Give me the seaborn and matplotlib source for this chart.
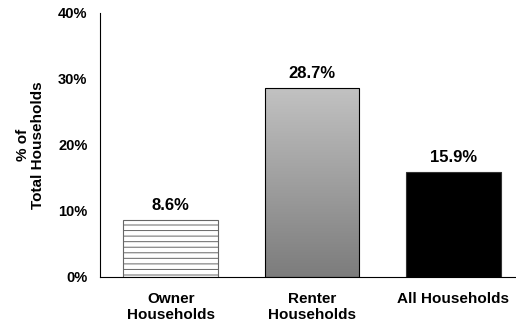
import numpy as np
import pandas as pd
import matplotlib
matplotlib.use("Agg")
import matplotlib.pyplot as plt
import seaborn as sns

categories = ["Owner\nHouseholds", "Renter\nHouseholds", "All Households"]
shares = [8.6, 28.7, 15.9]
value_labels = ["8.6%", "28.7%", "15.9%"]
y_ticks = [0, 10, 20, 30, 40]
y_tick_labels = ["0%", "10%", "20%", "30%", "40%"]

sns.set_theme(style="white")
plt.rcParams["font.family"] = ["Liberation Sans", "DejaVu Sans"]
plt.rcParams["font.weight"] = "bold"
plt.rcParams["hatch.linewidth"] = 0.7
for key in ["text.color", "axes.labelcolor", "xtick.color", "ytick.color"]:
    plt.rcParams[key] = "black"

df = pd.DataFrame({"group": categories, "share": shares})

W, H = 516, 329
fig = plt.figure(figsize=(W / 100, H / 100), dpi=100)
ax = fig.add_axes([100 / W, (H - 277) / H, 424 / W, 264 / H])

sns.barplot(data=df, x="group", y="share", ax=ax, width=0.67,
            color="black", saturation=1, edgecolor="black", linewidth=0.8)

owner, renter, total = ax.patches[:3]

# Owner bar: white with a fine horizontal line pattern
owner.set_facecolor("white")
owner.set_hatch("---")
owner.set_edgecolor("#666666")
owner.set_linewidth(0.8)

# Renter bar: vertical grey gradient clipped to the bar
renter.set_facecolor("none")
x0, y0 = renter.get_x(), renter.get_y()
w, h = renter.get_width(), renter.get_height()
grad = np.linspace(0, 1, 256).reshape(-1, 1)
cmap = matplotlib.colors.LinearSegmentedColormap.from_list("g", ["#7c7c7c", "#c2c2c2"])
im = ax.imshow(grad, cmap=cmap, origin="lower", aspect="auto",
               extent=[x0, x0 + w, y0, y0 + h], zorder=renter.get_zorder() - 0.1)
im.set_clip_path(renter)

total.set_facecolor("black")
total.set_edgecolor("#333333")

for i, (v, lab) in enumerate(zip(shares, value_labels)):
    ax.annotate(lab, (i, v), xytext=(0, 5), textcoords="offset points",
                ha="center", va="bottom", fontsize=12, fontweight="bold",
                color="black")

ax.set_xlim(-0.5, 2.5)
ax.set_ylim(0, 40)
ax.set_yticks(y_ticks)
ax.set_yticklabels(y_tick_labels, fontsize=10.5, fontweight="bold")
ax.set_xticks([0, 1, 2])
ax.set_xticklabels(categories, fontsize=11, fontweight="bold", linespacing=1.15)
ax.set_xticks([-0.5, 0.5, 1.5, 2.5], minor=True)
ax.tick_params(axis="x", which="major", length=0, pad=11)
ax.tick_params(axis="x", which="minor", direction="out", length=4, width=0.8, color="black")
ax.tick_params(axis="y", direction="out", length=5, width=0.8, color="black", pad=4)
ax.set_xlabel("")
ax.set_ylabel("% of\nTotal Households", fontsize=11, fontweight="bold", labelpad=9,
              linespacing=1.1)

for s in ["top", "right"]:
    ax.spines[s].set_visible(False)
for s in ["left", "bottom"]:
    ax.spines[s].set_color("black")
    ax.spines[s].set_linewidth(0.8)

fig.savefig("out.png", dpi=100)
